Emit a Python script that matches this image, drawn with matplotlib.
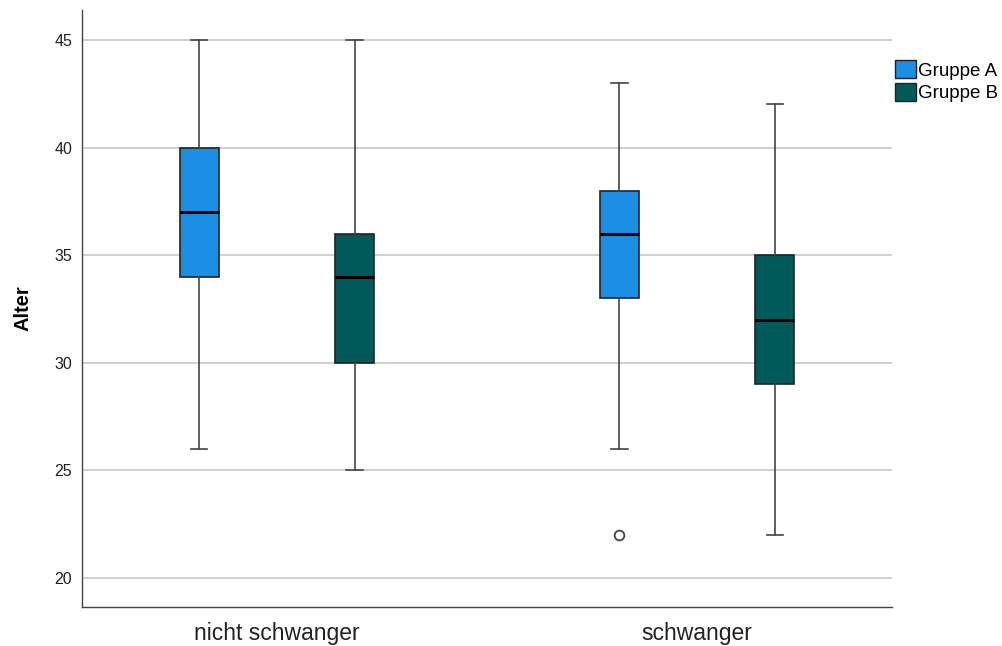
import matplotlib
matplotlib.use("Agg")
import matplotlib.pyplot as plt
from matplotlib.patches import Patch

plt.rcParams["font.family"] = ["Liberation Sans", "DejaVu Sans"]

categories = ["nicht schwanger", "schwanger"]
groups = ["Gruppe A", "Gruppe B"]
colors = ["#1a8fe3", "#005a5a"]
# [whislo, q1, med, q3, whishi], outliers per category/group
stats_A = [[26, 34, 37, 40, 45], [26, 33, 36, 38, 43]]
stats_B = [[25, 30, 34, 36, 45], [22, 29, 32, 35, 42]]
fliers_A = [[], [22]]
fliers_B = [[], []]
yticks = [20, 25, 30, 35, 40, 45]

fig = plt.figure(figsize=(10.03, 6.46), dpi=100)
ax = fig.add_axes([82/1003, 39/646, (892-82)/1003, (607-10)/646])

offset = 0.185
width = 0.093
for gi, (st, fl) in enumerate(((stats_A, fliers_A), (stats_B, fliers_B))):
    bstats = []
    for s, f in zip(st, fl):
        bstats.append(dict(whislo=s[0], q1=s[1], med=s[2], q3=s[3], whishi=s[4], fliers=f))
    pos = [i + (offset if gi else -offset) for i in range(len(categories))]
    ax.bxp(bstats, positions=pos, widths=width, patch_artist=True, manage_ticks=False,
           boxprops=dict(facecolor=colors[gi], edgecolor="#222222", linewidth=1.2),
           medianprops=dict(color="black", linewidth=2.2),
           whiskerprops=dict(color="#444444", linewidth=1.2),
           capprops=dict(color="#444444", linewidth=1.2), capwidths=width*0.42,
           flierprops=dict(marker="o", markerfacecolor="white", markeredgecolor="#444444",
                           markersize=7, markeredgewidth=1.3),
           zorder=3)

ax.set_xlim(-0.464, 1.464)
ax.set_ylim(18.65, 46.39)
ax.set_yticks(yticks)
ax.set_xticks(range(len(categories)))
ax.set_xticklabels(categories, fontsize=16.5, color="#222222")
ax.tick_params(axis="y", length=0, labelsize=11.5, pad=7, labelcolor="#222222")
ax.tick_params(axis="x", length=0, pad=11)
ax.grid(axis="y", color="#c8c8c8", linewidth=1.2, zorder=0)
ax.set_axisbelow(True)
for s in ["top", "right"]:
    ax.spines[s].set_visible(False)
for s in ["left", "bottom"]:
    ax.spines[s].set_color("#444444")
    ax.spines[s].set_linewidth(1.0)
ax.set_ylabel("Alter", fontsize=14.5, fontweight="bold", labelpad=16)

handles = [Patch(facecolor=c, edgecolor="#222222", label=g) for c, g in zip(colors, groups)]
fig.legend(handles=handles, loc="upper left", bbox_to_anchor=(886/1003, 1 - 51/646),
           frameon=False, fontsize=13.5, handlelength=1.1, handleheight=1.1,
           handletextpad=0.1, labelspacing=0.15, borderpad=0)

fig.savefig("out.png", dpi=100)
